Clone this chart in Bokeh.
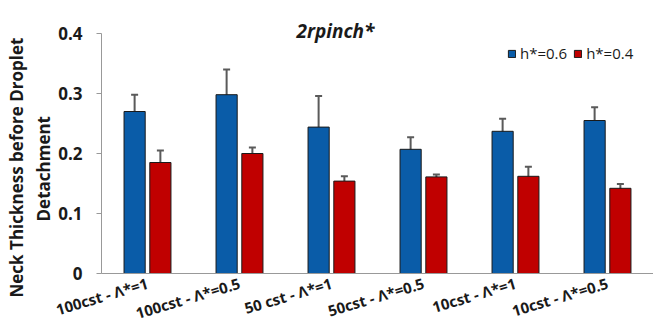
import math
from bokeh.plotting import figure
from bokeh.models import (ColumnDataSource, FactorRange, Whisker, TeeHead, Label,
                          Legend, LegendItem, FixedTicker, Title, Range1d)
from bokeh.transform import dodge
from bokeh.embed import file_html
from bokeh.resources import INLINE

categories = ["100cst - Λ*=1", "100cst - Λ*=0.5", "50 cst - Λ*=1",
              "50cst - Λ*=0.5", "10cst - Λ*=1", "10cst - Λ*=0.5"]
h06 = [0.270, 0.298, 0.244, 0.207, 0.237, 0.255]
h06_err = [0.028, 0.042, 0.052, 0.020, 0.021, 0.022]
h04 = [0.185, 0.200, 0.154, 0.161, 0.162, 0.142]
h04_err = [0.020, 0.010, 0.008, 0.004, 0.016, 0.007]
y_ticks = [0, 0.1, 0.2, 0.3, 0.4]
y_tick_labels = ["0", "0.1", "0.2", "0.3", "0.4"]

src = ColumnDataSource(dict(
    cat=categories, h06=h06, h04=h04,
    h06_lo=[v - e for v, e in zip(h06, h06_err)],
    h06_hi=[v + e for v, e in zip(h06, h06_err)],
    h04_lo=[v - e for v, e in zip(h04, h04_err)],
    h04_hi=[v + e for v, e in zip(h04, h04_err)],
))

BLUE = "#0A5CA8"
RED = "#C00000"
FONT = "Open Sans"
TXT = "#1a1a1a"

p = figure(x_range=FactorRange(factors=categories), y_range=Range1d(0, 0.45),
           width=653, height=332, output_backend="svg", toolbar_location=None,
           frame_width=552, frame_height=270,
           min_border_left=101, min_border_right=0, min_border_top=3,
           min_border_bottom=59)
p.outline_line_color = None
p.xgrid.grid_line_color = None
p.ygrid.grid_line_color = None

b1 = p.vbar(x=dodge('cat', -0.14, range=p.x_range), top='h06', width=0.23,
            source=src, fill_color=BLUE, line_color="#1a1a1a", line_width=1)
b2 = p.vbar(x=dodge('cat', 0.14, range=p.x_range), top='h04', width=0.23,
            source=src, fill_color=RED, line_color="#1a1a1a", line_width=1)

for off, lo, hi in [(-0.14, 'h06_lo', 'h06_hi'), (0.14, 'h04_lo', 'h04_hi')]:
    w = Whisker(source=src, base=dodge('cat', off, range=p.x_range),
                lower=lo, upper=hi, line_color="#5a5a5a", line_width=2,
                upper_head=TeeHead(size=7, line_color="#5a5a5a", line_width=2),
                lower_head=TeeHead(size=7, line_color="#5a5a5a", line_width=2))
    p.add_layout(w)

# y axis
p.yaxis.bounds = (0, 0.4)
p.yaxis.ticker = FixedTicker(ticks=y_ticks)
p.yaxis.major_label_overrides = {t: l for t, l in zip(y_ticks, y_tick_labels)}
p.yaxis.minor_tick_line_color = None
p.yaxis.major_tick_in = 0
p.yaxis.major_tick_out = 5
p.yaxis.major_tick_line_color = "#999999"
p.yaxis.axis_line_color = "#999999"
p.yaxis.major_label_text_font = FONT
p.yaxis.major_label_text_font_style = "bold"
p.yaxis.major_label_text_font_size = "17px"
p.yaxis.major_label_text_color = TXT
p.yaxis.major_label_standoff = 14

# x axis
p.xaxis.major_tick_line_color = None
p.xaxis.major_tick_in = 0
p.xaxis.major_tick_out = 0
p.xaxis.minor_tick_line_color = None
p.xaxis.axis_line_color = "#999999"
p.xaxis.major_label_orientation = 0.29
p.xaxis.major_label_text_font = FONT
p.xaxis.major_label_text_font_style = "bold"
p.xaxis.major_label_text_font_size = "15px"
p.xaxis.major_label_text_line_height = 1.0
p.xaxis.major_label_text_color = TXT
p.xaxis.major_label_standoff = 9

# y-axis title in two lines (closest to axis first)
p.add_layout(Title(text="Detachment", align="left", offset=52, standoff=2,
                   text_font=FONT, text_font_style="bold", text_font_size="17px",
                   text_color=TXT), "left")
p.add_layout(Title(text="Neck Thickness before Droplet", align="left", offset=-24,
                   standoff=2, text_font=FONT, text_font_style="bold",
                   text_font_size="17px", text_color=TXT), "left")

# legend
legend = Legend(items=[LegendItem(label="h*=0.6", renderers=[b1]),
                       LegendItem(label="h*=0.4", renderers=[b2])],
                orientation="horizontal", location=(406, 210),
                glyph_width=9, glyph_height=9, label_height=14,
                label_text_font=FONT, label_text_font_size="15px",
                label_text_color=TXT, label_standoff=4, spacing=6,
                padding=0, margin=0, border_line_color=None,
                background_fill_alpha=0)
p.add_layout(legend)

# chart title inside the frame's top band
p.add_layout(Label(x=234, y=243, x_units="screen", y_units="screen",
                   text="2rpinch*", text_font=FONT, text_font_style="bold italic",
                   text_font_size="19px", text_align="center",
                   text_baseline="alphabetic", text_color=TXT))

open("out.html", "w").write(file_html(p, INLINE))
